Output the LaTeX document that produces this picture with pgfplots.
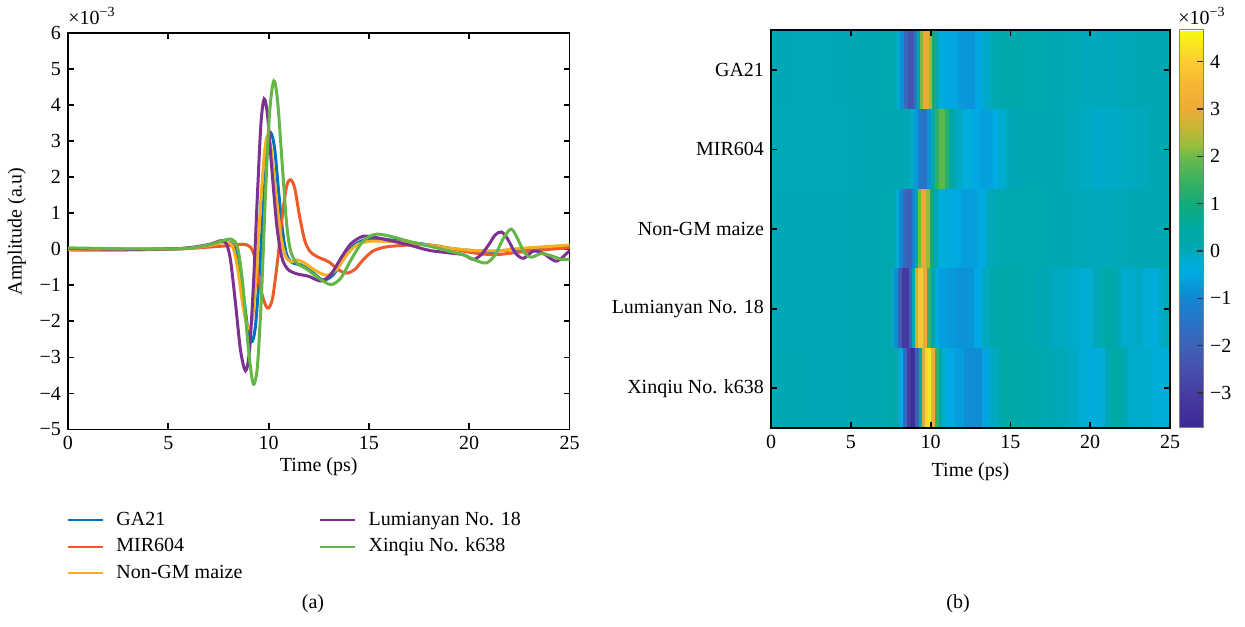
\documentclass[border=0pt]{standalone}
\usepackage{pgfplots}
\pgfplotsset{compat=1.18}
\usepackage{pgfplotstable}
\usepackage{fontspec}
\setmainfont{Liberation Serif}

\pgfplotstableread{
t v
0 0.01
2 0.0
4 0.0
5 0.01
6 0.03
7 0.1
7.5 0.17
7.9 0.22
8.25 0.1
8.5 -0.4
8.75 -1.3
9.0 -2.35
9.18 -2.56
9.35 -2.1
9.55 -0.6
9.75 1.3
9.95 2.85
10.11 3.23
10.3 2.8
10.5 1.6
10.7 0.5
10.9 -0.15
11.2 -0.38
11.6 -0.43
12.1 -0.6
12.7 -0.85
13.2 -0.72
13.7 -0.3
14.2 0.08
14.8 0.27
15.4 0.3
16.2 0.25
17.0 0.2
18.0 0.12
19.0 0.03
20.0 -0.03
21.0 -0.06
22.0 -0.02
23.0 0.02
24.0 0.03
25.0 0.05
25.5 0.05
}\gaData

\pgfplotstableread{
t v
0 -0.02
3 -0.02
5 0.0
6 0.02
7 0.06
8 0.1
8.7 0.14
9.1 0.06
9.35 -0.3
9.6 -1.1
9.85 -1.55
10.0 -1.63
10.2 -1.35
10.45 -0.3
10.7 1.0
10.9 1.75
11.09 1.93
11.3 1.7
11.55 0.9
11.8 0.25
12.05 -0.05
12.4 -0.2
13.0 -0.35
13.5 -0.58
13.9 -0.66
14.3 -0.56
14.7 -0.3
15.2 -0.05
15.8 0.06
16.5 0.1
17.5 0.13
18.3 0.1
19.0 0.03
19.7 -0.05
20.5 -0.12
21.3 -0.15
22.2 -0.1
23.0 -0.05
24.0 0.0
25.0 0.04
25.5 0.04
}\mirData

\pgfplotstableread{
t v
0 0.0
5 0.01
6 0.03
7 0.1
7.5 0.16
7.85 0.22
8.2 0.08
8.45 -0.5
8.7 -1.5
8.92 -2.1
9.06 -2.19
9.22 -1.8
9.42 -0.4
9.62 1.4
9.8 2.7
9.94 3.14
10.12 2.8
10.35 1.6
10.6 0.4
10.85 -0.2
11.15 -0.35
11.45 -0.3
11.8 -0.38
12.3 -0.58
12.9 -0.72
13.4 -0.55
13.9 -0.15
14.4 0.12
15.0 0.22
15.8 0.22
16.5 0.2
17.5 0.15
18.5 0.07
19.5 0.0
20.5 -0.04
21.5 -0.04
22.5 0.02
23.5 0.06
24.3 0.09
25 0.12
25.5 0.12
}\nonData

\pgfplotstableread{
t v
0 0.02
3 0.0
5 0.01
6 0.04
7 0.13
7.4 0.2
7.65 0.24
7.9 0.15
8.1 -0.3
8.35 -1.5
8.6 -2.8
8.85 -3.37
9.05 -2.8
9.25 -0.9
9.45 1.6
9.62 3.5
9.78 4.17
9.95 3.7
10.15 2.3
10.4 0.7
10.65 -0.2
10.95 -0.55
11.4 -0.68
12.0 -0.75
12.6 -0.88
13.1 -0.7
13.6 -0.25
14.1 0.15
14.7 0.36
15.3 0.33
16.0 0.25
17.0 0.12
18.0 -0.03
19.0 -0.1
19.7 -0.15
20.2 -0.28
20.6 -0.15
21.0 0.15
21.3 0.4
21.6 0.48
21.9 0.3
22.3 -0.1
22.7 -0.25
23.2 -0.05
23.7 -0.12
24.3 -0.33
24.7 -0.2
25 -0.05
25.5 -0.05
}\lumData

\pgfplotstableread{
t v
0 0.04
3 0.01
5 0.01
6 0.03
7 0.12
7.6 0.22
8.15 0.28
8.45 0.05
8.7 -0.9
8.95 -2.5
9.15 -3.5
9.28 -3.74
9.45 -3.2
9.65 -1.2
9.85 1.6
10.05 3.8
10.26 4.67
10.45 4.1
10.7 2.2
10.9 0.7
11.1 -0.05
11.4 -0.38
11.9 -0.55
12.5 -0.8
13.1 -0.98
13.6 -0.8
14.1 -0.3
14.6 0.15
15.0 0.35
15.4 0.42
16.0 0.37
16.8 0.25
17.5 0.15
18.3 0.05
19.0 -0.05
19.7 -0.15
20.3 -0.3
20.85 -0.38
21.3 -0.15
21.7 0.3
22.1 0.56
22.45 0.25
22.75 -0.1
23.1 -0.22
23.6 -0.12
24.2 -0.2
24.6 -0.28
25 -0.28
25.5 -0.28
}\xinData

\definecolor{cGA}{RGB}{0,114,189}
\definecolor{cMIR}{RGB}{240,90,40}
\definecolor{cNon}{RGB}{248,175,30}
\definecolor{cLum}{RGB}{125,50,145}
\definecolor{cXin}{RGB}{100,182,70}

\pgfplotsset{
  matstyle/.style={
    scale only axis,
    tick align=inside, tick pos=both,
    major tick length=3pt,
    axis line style={line width=0.9pt},
    every tick/.style={black, line width=0.9pt},
    xmin=0, xmax=25,
    xtick={0,5,...,25}, xticklabels={0,5,10,15,20,25},
  }
}

\begin{document}
\begin{tikzpicture}
\useasboundingbox (0,0) rectangle (622.5pt,313pt);
\begin{axis}[
  matstyle,
  width=250.75pt, height=198.25pt,
  at={(34pt,98.25pt)}, anchor=south west,
  ymin=-5, ymax=6,
  ytick={-5,...,6},
  yticklabels={−5,−4,−3,−2,−1,0,1,2,3,4,5,6},
  xlabel={Time (ps)}, ylabel={Amplitude (a.u)},
  xlabel style={yshift=3pt},
  legend columns=2,
  legend cell align=left,
  legend image code/.code={\draw[#1, line width=1pt] (0pt,0pt) -- (17.5pt,0pt);},
  legend style={draw=none, fill=none, inner sep=0pt,
    at={(0,0)}, anchor=north west, xshift=-0.8pt, yshift=-40.75pt,
    nodes={inner xsep=3.3pt, inner ysep=0pt, text height=7pt, text depth=2pt},
    row sep=4.25pt,
    /tikz/every odd column/.append style={column sep=3pt},
    /tikz/every even column/.append style={column sep=35pt}},
]
\addplot[cGA, line width=1.5pt, smooth, forget plot] table[x=t, y=v] {\gaData};
\addplot[cMIR, line width=1.5pt, smooth, forget plot] table[x=t, y=v] {\mirData};
\addplot[cNon, line width=1.5pt, smooth, forget plot] table[x=t, y=v] {\nonData};
\addplot[cLum, line width=1.5pt, smooth, forget plot] table[x=t, y=v] {\lumData};
\addplot[cXin, line width=1.5pt, smooth, forget plot] table[x=t, y=v] {\xinData};
\addlegendimage{cGA}\addlegendentry{GA21}
\addlegendimage{cLum}\addlegendentry{Lumianyan No. 18}
\addlegendimage{cMIR}\addlegendentry{MIR604}
\addlegendimage{cXin}\addlegendentry{Xinqiu No. k638}
\addlegendimage{cNon}\addlegendentry{Non-GM maize}
\end{axis}

\begin{axis}[
  matstyle,
  width=199.5pt, height=199pt,
  at={(385.5pt,99pt)}, anchor=south west,
  ymin=0.5, ymax=5.5, y dir=reverse,
  ytick={1,...,5},
  yticklabels={GA21,MIR604,Non-GM maize,Lumianyan No. 18,Xinqiu No. k638},
  xlabel={Time (ps)},
  axis on top,
  colormap={parula}{
    rgb255(0pt)=(62,40,150);
    rgb255(15pt)=(70,60,162);
    rgb255(25pt)=(70,80,172);
    rgb255(35pt)=(62,98,185);
    rgb255(45pt)=(42,115,200);
    rgb255(55pt)=(18,135,212);
    rgb255(65pt)=(0,168,228);
    rgb255(69pt)=(0,174,220);
    rgb255(75pt)=(0,168,182);
    rgb255(85pt)=(0,169,160);
    rgb255(95pt)=(18,170,122);
    rgb255(105pt)=(60,178,95);
    rgb255(115pt)=(110,186,75);
    rgb255(119pt)=(150,190,60);
    rgb255(127pt)=(200,182,50);
    rgb255(135pt)=(238,170,55);
    rgb255(145pt)=(246,182,52);
    rgb255(155pt)=(252,205,48);
    rgb255(161pt)=(250,225,38);
    rgb255(168pt)=(248,250,15)
  },
  point meta min=-3.74, point meta max=4.67,
  colorbar,
  colorbar style={
    at={(parent axis.north east)}, anchor=north west, xshift=-4pt,
    width=12pt,
    ytick={-3,...,4},
    yticklabels={−3,−2,−1,0,1,2,3,4},
    ytick pos=right, yticklabel pos=right,
    tick align=inside,
    major tick length=3pt,
    axis line style={gray, line width=0.5pt},
    every tick/.style={black!80, line width=0.6pt},
  },
]
\addplot[mesh, shader=flat, line width=40.2pt, point meta=\thisrow{v}] table[x expr=\thisrow{t}-0.4, y expr=1] {\gaData};
\addplot[mesh, shader=flat, line width=40.2pt, point meta=\thisrow{v}] table[x expr=\thisrow{t}-0.4, y expr=2] {\mirData};
\addplot[mesh, shader=flat, line width=40.2pt, point meta=\thisrow{v}] table[x expr=\thisrow{t}-0.4, y expr=3] {\nonData};
\addplot[mesh, shader=flat, line width=40.2pt, point meta=\thisrow{v}] table[x expr=\thisrow{t}-0.4, y expr=4] {\lumData};
\addplot[mesh, shader=flat, line width=40.2pt, point meta=\thisrow{v}] table[x expr=\thisrow{t}-0.4, y expr=5] {\xinData};
\end{axis}

\node[anchor=west, inner sep=0pt] at (34pt,305pt) {×10\textsuperscript{−3}};
\node[anchor=west, inner sep=0pt] at (589pt,305pt) {×10\textsuperscript{−3}};
\node at (156.5pt,11pt) {(a)};
\node at (479pt,11pt) {(b)};
\end{tikzpicture}
\end{document}
